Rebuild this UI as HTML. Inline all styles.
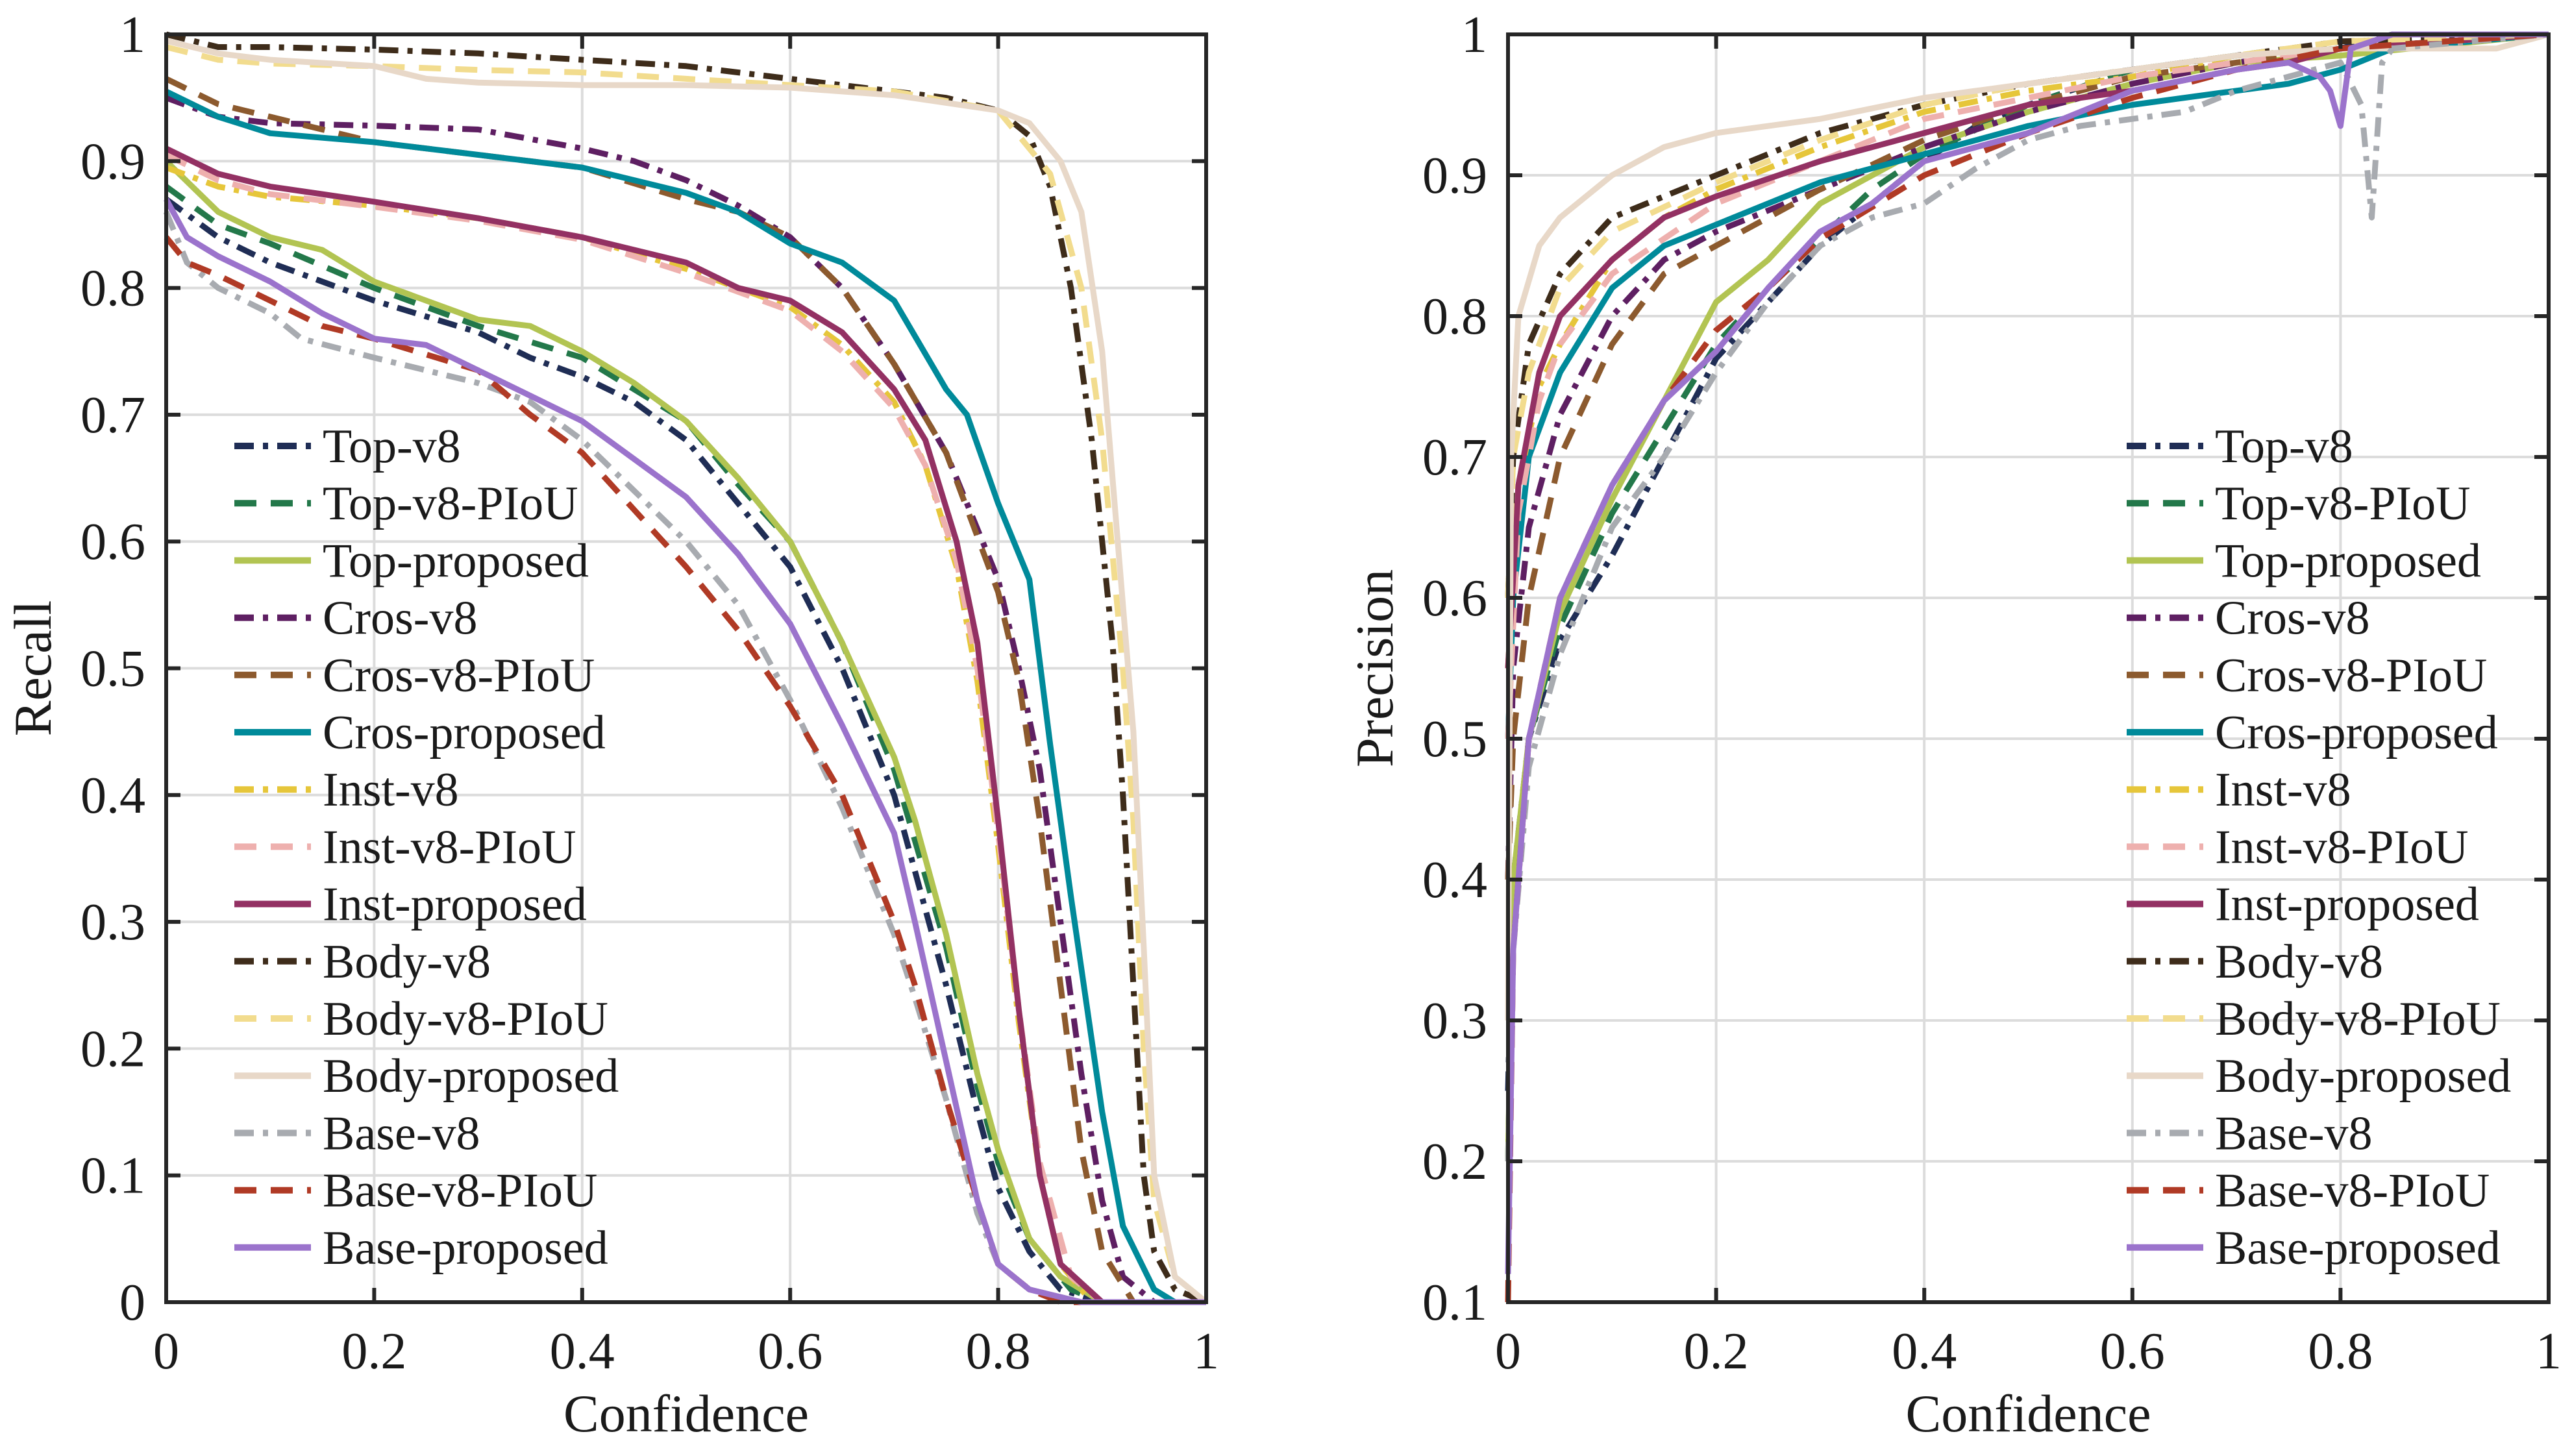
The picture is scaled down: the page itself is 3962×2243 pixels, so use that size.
<!DOCTYPE html>
<html><head><meta charset="utf-8">
<style>
html,body{margin:0;padding:0;background:#fff;}
svg{display:block;}
text{font-family:"Liberation Serif","DejaVu Serif",serif;fill:#1a1a1a;}
</style></head>
<body>
<svg id="fig" xmlns="http://www.w3.org/2000/svg" width="3962" height="2243" viewBox="0 0 3962 2243"></svg>
<script>
// ---------- data ----------
const seriesNames = ["Top-v8","Top-v8-PIoU","Top-proposed","Cros-v8","Cros-v8-PIoU","Cros-proposed","Inst-v8","Inst-v8-PIoU","Inst-proposed","Body-v8","Body-v8-PIoU","Body-proposed","Base-v8","Base-v8-PIoU","Base-proposed"];
const seriesColors = ["#1f2d55","#23784a","#b2c452","#5e1f62","#8c5a2e","#008a9a","#e6c63a","#eeb0ae","#933163","#3e2c1a","#f2dc8e","#e8d8c8","#a8abb0","#b03a25","#9b73cc"];
const seriesStyles = ["dashdot","dash","solid","dashdot","dash","solid","dashdot","dash","solid","dashdot","dash","solid","dashdot","dash","solid"];
const xTicks = [0,0.2,0.4,0.6,0.8,1];
const xTickLabels = ["0","0.2","0.4","0.6","0.8","1"];
const recallTicks = [0,0.1,0.2,0.3,0.4,0.5,0.6,0.7,0.8,0.9,1];
const recallTickLabels = ["0","0.1","0.2","0.3","0.4","0.5","0.6","0.7","0.8","0.9","1"];
const precTicks = [0.1,0.2,0.3,0.4,0.5,0.6,0.7,0.8,0.9,1];
const precTickLabels = ["0.1","0.2","0.3","0.4","0.5","0.6","0.7","0.8","0.9","1"];

const recallTopV8 = [[0,0.87],[0.05,0.84],[0.1,0.82],[0.2,0.79],[0.3,0.765],[0.35,0.745],[0.4,0.73],[0.45,0.71],[0.5,0.68],[0.55,0.63],[0.6,0.58],[0.65,0.5],[0.7,0.4],[0.72,0.34],[0.75,0.25],[0.78,0.15],[0.8,0.09],[0.83,0.04],[0.86,0.01],[0.9,0],[1,0]];
const recallTopV8P = [[0,0.88],[0.05,0.85],[0.1,0.835],[0.2,0.8],[0.3,0.77],[0.4,0.745],[0.5,0.695],[0.55,0.645],[0.6,0.6],[0.65,0.52],[0.7,0.42],[0.75,0.28],[0.78,0.17],[0.8,0.11],[0.83,0.05],[0.87,0.01],[0.9,0],[1,0]];
const recallTopProp = [[0,0.9],[0.05,0.86],[0.1,0.84],[0.15,0.83],[0.2,0.805],[0.3,0.775],[0.35,0.77],[0.4,0.75],[0.45,0.725],[0.5,0.695],[0.55,0.65],[0.6,0.6],[0.65,0.52],[0.7,0.43],[0.72,0.38],[0.75,0.29],[0.78,0.18],[0.8,0.12],[0.83,0.05],[0.86,0.02],[0.9,0],[1,0]];
const recallCrosV8 = [[0,0.95],[0.05,0.935],[0.1,0.93],[0.2,0.928],[0.3,0.925],[0.4,0.91],[0.45,0.9],[0.5,0.885],[0.55,0.865],[0.6,0.84],[0.65,0.8],[0.7,0.74],[0.75,0.67],[0.8,0.57],[0.82,0.5],[0.84,0.42],[0.86,0.3],[0.88,0.18],[0.9,0.08],[0.92,0.02],[0.95,0],[1,0]];
const recallCrosV8P = [[0,0.965],[0.05,0.945],[0.1,0.935],[0.2,0.915],[0.3,0.905],[0.4,0.895],[0.5,0.87],[0.55,0.86],[0.6,0.84],[0.65,0.8],[0.7,0.74],[0.75,0.67],[0.8,0.56],[0.82,0.49],[0.84,0.38],[0.86,0.25],[0.88,0.12],[0.9,0.04],[0.93,0],[1,0]];
const recallCrosProp = [[0,0.955],[0.05,0.935],[0.1,0.922],[0.2,0.915],[0.3,0.905],[0.4,0.895],[0.45,0.885],[0.5,0.875],[0.55,0.86],[0.6,0.835],[0.65,0.82],[0.7,0.79],[0.75,0.72],[0.77,0.7],[0.8,0.63],[0.83,0.57],[0.85,0.44],[0.87,0.32],[0.9,0.15],[0.92,0.06],[0.95,0.01],[0.97,0],[1,0]];
const recallInstV8 = [[0,0.895],[0.05,0.88],[0.1,0.872],[0.2,0.865],[0.3,0.855],[0.4,0.84],[0.5,0.815],[0.55,0.8],[0.6,0.785],[0.65,0.755],[0.7,0.71],[0.73,0.66],[0.76,0.58],[0.78,0.49],[0.8,0.36],[0.82,0.22],[0.84,0.1],[0.86,0.03],[0.89,0],[1,0]];
const recallInstV8P = [[0,0.905],[0.05,0.885],[0.1,0.874],[0.2,0.864],[0.3,0.853],[0.4,0.838],[0.5,0.812],[0.55,0.797],[0.6,0.782],[0.65,0.75],[0.7,0.705],[0.73,0.66],[0.76,0.585],[0.78,0.5],[0.8,0.37],[0.82,0.23],[0.84,0.11],[0.87,0.02],[0.9,0],[1,0]];
const recallInstProp = [[0,0.91],[0.05,0.89],[0.1,0.88],[0.2,0.868],[0.3,0.855],[0.4,0.84],[0.5,0.82],[0.55,0.8],[0.6,0.79],[0.65,0.765],[0.7,0.72],[0.73,0.68],[0.76,0.6],[0.78,0.52],[0.8,0.38],[0.82,0.23],[0.84,0.1],[0.86,0.03],[0.9,0],[1,0]];
const recallBodyV8 = [[0,1],[0.05,0.99],[0.1,0.99],[0.2,0.988],[0.3,0.985],[0.4,0.98],[0.5,0.975],[0.6,0.965],[0.7,0.955],[0.75,0.95],[0.8,0.94],[0.83,0.92],[0.85,0.88],[0.87,0.8],[0.89,0.68],[0.91,0.52],[0.92,0.4],[0.93,0.25],[0.94,0.1],[0.95,0.04],[0.97,0.01],[1,0]];
const recallBodyV8P = [[0,0.99],[0.05,0.98],[0.1,0.977],[0.2,0.975],[0.3,0.972],[0.4,0.97],[0.5,0.965],[0.6,0.96],[0.7,0.955],[0.8,0.94],[0.85,0.89],[0.88,0.8],[0.9,0.68],[0.92,0.5],[0.93,0.38],[0.94,0.2],[0.95,0.08],[0.97,0.02],[1,0]];
const recallBodyProp = [[0,0.995],[0.05,0.985],[0.1,0.98],[0.2,0.975],[0.25,0.965],[0.3,0.962],[0.4,0.96],[0.5,0.96],[0.6,0.958],[0.7,0.952],[0.8,0.94],[0.83,0.93],[0.86,0.9],[0.88,0.86],[0.9,0.75],[0.92,0.55],[0.93,0.45],[0.94,0.28],[0.95,0.1],[0.97,0.02],[1,0]];
const recallBaseV8 = [[0,0.86],[0.02,0.82],[0.05,0.8],[0.1,0.78],[0.13,0.76],[0.2,0.745],[0.3,0.725],[0.35,0.71],[0.4,0.68],[0.45,0.64],[0.5,0.6],[0.55,0.55],[0.6,0.475],[0.65,0.39],[0.7,0.29],[0.72,0.24],[0.75,0.16],[0.78,0.07],[0.8,0.03],[0.83,0.01],[0.88,0],[1,0]];
const recallBaseV8P = [[0,0.84],[0.02,0.82],[0.05,0.81],[0.1,0.79],[0.15,0.77],[0.2,0.76],[0.3,0.735],[0.35,0.7],[0.4,0.67],[0.45,0.625],[0.5,0.58],[0.55,0.53],[0.6,0.47],[0.65,0.4],[0.7,0.3],[0.72,0.25],[0.75,0.16],[0.78,0.08],[0.8,0.03],[0.83,0.01],[0.86,0],[1,0]];
const recallBaseProp = [[0,0.87],[0.02,0.84],[0.05,0.825],[0.1,0.805],[0.15,0.78],[0.2,0.76],[0.25,0.755],[0.3,0.735],[0.35,0.715],[0.4,0.695],[0.45,0.665],[0.5,0.635],[0.55,0.59],[0.6,0.535],[0.65,0.455],[0.7,0.37],[0.72,0.3],[0.75,0.19],[0.78,0.08],[0.8,0.03],[0.83,0.01],[0.88,0],[1,0]];

const precTopV8 = [[0,0.25],[0.005,0.4],[0.02,0.5],[0.05,0.57],[0.1,0.63],[0.15,0.7],[0.2,0.77],[0.25,0.81],[0.3,0.85],[0.35,0.88],[0.4,0.91],[0.45,0.935],[0.5,0.95],[0.6,0.975],[0.7,0.985],[0.8,0.99],[0.85,1],[1,1]];
const precTopV8P = [[0,0.2],[0.005,0.38],[0.02,0.5],[0.05,0.58],[0.1,0.66],[0.15,0.72],[0.2,0.78],[0.25,0.82],[0.3,0.855],[0.35,0.89],[0.4,0.915],[0.5,0.95],[0.6,0.975],[0.7,0.985],[0.8,0.99],[1,1]];
const precTopProp = [[0,0.2],[0.005,0.4],[0.02,0.5],[0.05,0.59],[0.1,0.67],[0.15,0.74],[0.2,0.81],[0.25,0.84],[0.3,0.88],[0.35,0.9],[0.4,0.92],[0.5,0.945],[0.6,0.965],[0.7,0.98],[0.8,0.985],[1,1]];
const precCrosV8 = [[0,0.4],[0.005,0.55],[0.02,0.65],[0.05,0.73],[0.1,0.8],[0.15,0.84],[0.2,0.86],[0.3,0.89],[0.4,0.92],[0.5,0.945],[0.6,0.965],[0.7,0.98],[0.8,0.99],[1,1]];
const precCrosV8P = [[0,0.4],[0.005,0.5],[0.02,0.6],[0.05,0.7],[0.1,0.78],[0.15,0.83],[0.2,0.85],[0.3,0.89],[0.4,0.925],[0.5,0.95],[0.6,0.97],[0.7,0.98],[0.8,0.99],[1,1]];
const precCrosProp = [[0,0.5],[0.005,0.6],[0.02,0.7],[0.05,0.76],[0.1,0.82],[0.15,0.85],[0.2,0.865],[0.3,0.895],[0.4,0.915],[0.5,0.935],[0.6,0.95],[0.7,0.96],[0.75,0.965],[0.8,0.975],[0.85,0.99],[1,1]];
const precInstV8 = [[0,0.55],[0.01,0.68],[0.03,0.75],[0.05,0.78],[0.1,0.84],[0.15,0.87],[0.2,0.89],[0.3,0.92],[0.4,0.945],[0.5,0.96],[0.6,0.97],[0.7,0.985],[0.8,0.99],[1,1]];
const precInstV8P = [[0,0.5],[0.01,0.66],[0.03,0.74],[0.05,0.78],[0.1,0.83],[0.2,0.88],[0.3,0.91],[0.4,0.94],[0.5,0.955],[0.6,0.97],[0.8,0.99],[1,1]];
const precInstProp = [[0,0.55],[0.01,0.68],[0.03,0.76],[0.05,0.8],[0.1,0.84],[0.15,0.87],[0.2,0.885],[0.3,0.91],[0.4,0.93],[0.5,0.95],[0.6,0.96],[0.7,0.975],[0.75,0.98],[0.8,0.99],[1,1]];
const precBodyV8 = [[0,0.6],[0.005,0.7],[0.02,0.78],[0.05,0.83],[0.1,0.87],[0.15,0.885],[0.2,0.9],[0.3,0.93],[0.4,0.95],[0.5,0.965],[0.6,0.975],[0.7,0.985],[0.8,0.995],[1,1]];
const precBodyV8P = [[0,0.6],[0.005,0.7],[0.02,0.76],[0.05,0.82],[0.1,0.86],[0.2,0.895],[0.3,0.925],[0.4,0.95],[0.5,0.965],[0.6,0.975],[0.8,0.995],[1,1]];
const precBodyProp = [[0,0.3],[0.003,0.7],[0.01,0.8],[0.03,0.85],[0.05,0.87],[0.1,0.9],[0.15,0.92],[0.2,0.93],[0.3,0.94],[0.4,0.955],[0.5,0.965],[0.6,0.975],[0.7,0.985],[0.8,0.99],[0.95,0.99],[1,1]];
const precBaseV8 = [[0,0.2],[0.005,0.35],[0.02,0.48],[0.05,0.56],[0.1,0.65],[0.15,0.7],[0.2,0.76],[0.25,0.81],[0.3,0.85],[0.35,0.87],[0.4,0.88],[0.45,0.905],[0.5,0.925],[0.55,0.935],[0.6,0.94],[0.65,0.945],[0.7,0.96],[0.75,0.97],[0.8,0.98],[0.82,0.95],[0.83,0.87],[0.84,0.98],[0.85,0.99],[1,1]];
const precBaseV8P = [[0,0.1],[0.005,0.35],[0.02,0.5],[0.05,0.6],[0.1,0.68],[0.15,0.74],[0.2,0.79],[0.25,0.82],[0.3,0.855],[0.4,0.9],[0.5,0.93],[0.6,0.955],[0.7,0.975],[0.8,0.99],[1,1]];
const precBaseProp = [[0,0.12],[0.005,0.35],[0.02,0.5],[0.05,0.6],[0.1,0.68],[0.15,0.74],[0.2,0.775],[0.25,0.82],[0.3,0.86],[0.35,0.88],[0.4,0.91],[0.45,0.92],[0.5,0.93],[0.55,0.945],[0.6,0.96],[0.7,0.975],[0.75,0.98],[0.78,0.97],[0.79,0.96],[0.8,0.935],[0.81,0.99],[0.85,1],[1,1]];

const recallSeries = [recallTopV8,recallTopV8P,recallTopProp,recallCrosV8,recallCrosV8P,recallCrosProp,recallInstV8,recallInstV8P,recallInstProp,recallBodyV8,recallBodyV8P,recallBodyProp,recallBaseV8,recallBaseV8P,recallBaseProp];
const precSeries = [precTopV8,precTopV8P,precTopProp,precCrosV8,precCrosV8P,precCrosProp,precInstV8,precInstV8P,precInstProp,precBodyV8,precBodyV8P,precBodyProp,precBaseV8,precBaseV8P,precBaseProp];

// ---------- drawing ----------
const NS = "http://www.w3.org/2000/svg";
const svg = document.getElementById("fig");
function mk(tag, attrs, parent){
  const e = document.createElementNS(NS, tag);
  for (const k in attrs) e.setAttribute(k, attrs[k]);
  (parent||svg).appendChild(e);
  return e;
}
const dashFor = {solid:"none", dash:"34,22", dashdot:"30,14,8,14"};

function drawPanel(opt){
  const {left,right,top,bottom,yMin,yMax,yTicks,yLabels,series,yTitle,name,legX,legY} = opt;
  const sx = v => left + v*(right-left);
  const sy = v => bottom - (v-yMin)/(yMax-yMin)*(bottom-top);
  const g = mk("g",{});
  
  
  xTicks.forEach(t=>{
    const l = mk("line",{x1:sx(t),x2:sx(t),y1:top,y2:bottom,stroke:"#dcdcdc","stroke-width":4},g);
    
    
  });
  yTicks.forEach(t=>{
    const l = mk("line",{x1:left,x2:right,y1:sy(t),y2:sy(t),stroke:"#dcdcdc","stroke-width":4},g);
    
    
  });
  const cg = mk("g",{},g);
  series.forEach((pts,i)=>{
    const d = pts.map((p,j)=>(j?"L":"M")+sx(p[0]).toFixed(1)+","+sy(Math.max(yMin,p[1])).toFixed(1)).join(" ");
    const p = mk("path",{d:d,fill:"none",stroke:seriesColors[i],"stroke-width":9,"stroke-dasharray":dashFor[seriesStyles[i]],"stroke-linejoin":"round"},cg);
    
    
  });
  const box = mk("rect",{x:left,y:top,width:right-left,height:bottom-top,fill:"none",stroke:"#262626","stroke-width":6},g);
  
  
  xTicks.forEach((t,i)=>{
    mk("line",{x1:sx(t),x2:sx(t),y1:bottom,y2:bottom-22,stroke:"#262626","stroke-width":6},g);
    mk("line",{x1:sx(t),x2:sx(t),y1:top,y2:top+22,stroke:"#262626","stroke-width":6},g);
    const tx = mk("text",{x:sx(t),y:bottom+102,"font-size":80,"text-anchor":"middle"},g);
    tx.textContent = xTickLabels[i];
    
    
  });
  yTicks.forEach((t,i)=>{
    mk("line",{x1:left,x2:left+22,y1:sy(t),y2:sy(t),stroke:"#262626","stroke-width":6},g);
    mk("line",{x1:right,x2:right-22,y1:sy(t),y2:sy(t),stroke:"#262626","stroke-width":6},g);
    const tx = mk("text",{x:left-32,y:sy(t)+27,"font-size":80,"text-anchor":"end"},g);
    tx.textContent = yLabels[i];
    
    
  });
  const xt = mk("text",{x:(left+right)/2,y:2205,"font-size":82,"text-anchor":"middle"},g);
  xt.textContent = "Confidence";
  
  
  const cy = (top+bottom)/2;
  const yt = mk("text",{x:0,y:0,"font-size":82,"text-anchor":"middle",transform:`translate(${left-178},${cy}) rotate(-90)`},g);
  yt.textContent = yTitle;
  
  
  const lg = mk("g",{},g);
  
  
  seriesNames.forEach((n,i)=>{
    const y = legY + i*88.2;
    const eg = mk("g",{},lg);
    
    
    mk("line",{x1:legX,x2:legX+118,y1:y,y2:y,stroke:seriesColors[i],"stroke-width":10,"stroke-dasharray":dashFor[seriesStyles[i]]},eg);
    const tx = mk("text",{x:legX+136,y:y+25,"font-size":74},eg);
    tx.textContent = n;
  });
}

drawPanel({left:256,right:1858,top:53,bottom:2006,yMin:0,yMax:1,yTicks:recallTicks,yLabels:recallTickLabels,series:recallSeries,yTitle:"Recall",name:"recall-chart",legX:361,legY:687});
drawPanel({left:2323,right:3926,top:53,bottom:2006,yMin:0.1,yMax:1,yTicks:precTicks,yLabels:precTickLabels,series:precSeries,yTitle:"Precision",name:"precision-chart",legX:3276,legY:687});
</script>
</body></html>
